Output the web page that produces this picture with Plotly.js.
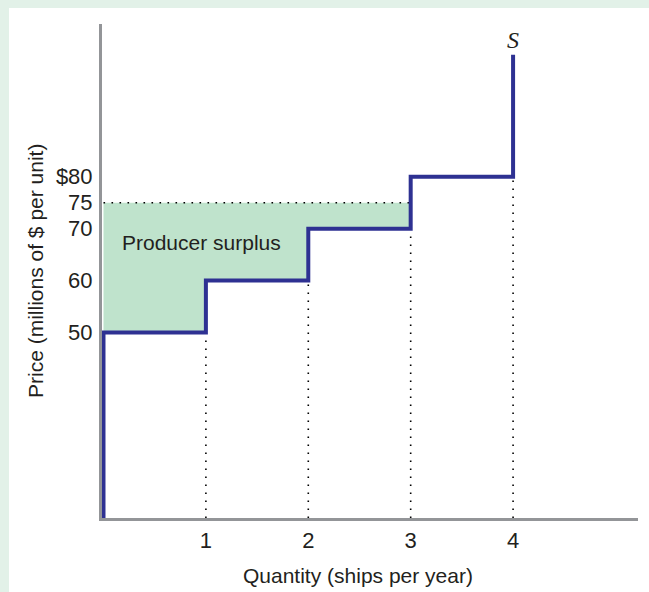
<!DOCTYPE html>
<html>
<head>
<meta charset="utf-8">
<script src="https://cdn.plot.ly/plotly-3.0.1.min.js"></script>
<style>
  html, body { margin: 0; padding: 0; background: #e2f1e8; width: 649px; height: 592px; overflow: hidden; }
  #chart { position: absolute; left: 9px; top: 8px; width: 640px; height: 584px; background: #ffffff; }
</style>
</head>
<body>
<div id="chart"></div>
<script>
// ---- data ----
const quantities = [1, 2, 3, 4];          // ships per year
const stepPrices = [50, 60, 70, 80];      // supply price of each ship (millions $)
const marketPrice = 75;                   // price
const supplyTopPrice = 103.5;             // top of the final vertical of S
const yTickVals = [80, 75, 70, 60, 50];
const yTickText = ['$80', '75', '70', '60', '50'];
const xTickVals = [1, 2, 3, 4];
const xTickText = ['1', '2', '3', '4'];

const yMin = 14.3, yMax = 109.4;
const xMin = -0.0146, xMax = 5.22;

const BLUE = '#2e3192';
const GREEN = '#bfe3cc';
const AXIS = '#939598';
const TEXT = '#231f20';
const FONT = 'Liberation Sans, Arial, sans-serif';

// supply step curve
const sx = [0], sy = [yMin];
let q0 = 0;
for (let i = 0; i < quantities.length; i++) {
  sx.push(q0, quantities[i]);
  sy.push(stepPrices[i], stepPrices[i]);
  q0 = quantities[i];
}
sx.push(q0); sy.push(supplyTopPrice);

// producer surplus polygon (units whose price is below the market price)
const px = [0], py = [marketPrice];
let p0 = 0;
for (let i = 0; i < quantities.length; i++) {
  if (stepPrices[i] >= marketPrice) break;
  px.push(p0, quantities[i]);
  py.push(stepPrices[i], stepPrices[i]);
  p0 = quantities[i];
}
px.push(p0); py.push(marketPrice);

// dotted guide lines
const dotted = { color: '#000000', width: 1.6, dash: '1.6px,6.4px' };
const traces = [];
traces.push({
  x: px, y: py, type: 'scatter', mode: 'lines', fill: 'toself',
  fillcolor: GREEN, line: { width: 0 }, hoverinfo: 'skip', showlegend: false
});
traces.push({
  x: [0, p0], y: [marketPrice, marketPrice], type: 'scatter', mode: 'lines',
  line: dotted, hoverinfo: 'skip', showlegend: false
});
for (let i = 0; i < quantities.length; i++) {
  traces.push({
    x: [quantities[i], quantities[i]], y: [yMin, stepPrices[i]], type: 'scatter', mode: 'lines',
    line: dotted, hoverinfo: 'skip', showlegend: false
  });
}
traces.push({
  x: sx, y: sy, type: 'scatter', mode: 'lines',
  line: { color: BLUE, width: 4 }, showlegend: false, name: 'S'
});

const layout = {
  width: 640, height: 584,
  margin: { l: 93, r: 11, t: 16, b: 74 },
  paper_bgcolor: '#ffffff', plot_bgcolor: '#ffffff',
  font: { family: FONT, color: TEXT, size: 21 },
  showlegend: false,
  xaxis: {
    range: [xMin, xMax], showgrid: false, zeroline: false,
    showline: true, linecolor: AXIS, linewidth: 3, layer: 'below traces',
    tickvals: xTickVals, ticktext: xTickText, ticks: '', ticklabelstandoff: 1,
    tickfont: { family: FONT, size: 22, color: TEXT }, fixedrange: true
  },
  yaxis: {
    range: [yMin, yMax], showgrid: false, zeroline: false,
    showline: true, linecolor: AXIS, linewidth: 3, layer: 'below traces',
    tickvals: yTickVals, ticktext: yTickText, ticks: '', ticklabelstandoff: 2,
    tickfont: { family: FONT, size: 22, color: TEXT }, fixedrange: true
  },
  annotations: [
    { text: '<i>S</i>', xref: 'x', yref: 'y', x: quantities[quantities.length - 1], y: supplyTopPrice,
      yanchor: 'bottom', yshift: 0, showarrow: false,
      font: { family: 'Liberation Serif, Times New Roman, serif', size: 24, color: TEXT } },
    { text: 'Producer surplus', xref: 'x', yref: 'y', x: 0.96, y: 67.3, showarrow: false,
      xanchor: 'center', yanchor: 'middle', font: { family: FONT, size: 21, color: TEXT } },
    { text: 'Price (millions of $ per unit)', xref: 'paper', yref: 'paper', x: 0, y: 0.5,
      xshift: -67, textangle: -90, showarrow: false, xanchor: 'center', yanchor: 'middle',
      font: { family: FONT, size: 21, color: TEXT } },
    { text: 'Quantity (ships per year)', xref: 'paper', yref: 'paper', x: 0.478, y: 0,
      yshift: -57, showarrow: false, xanchor: 'center', yanchor: 'middle',
      font: { family: FONT, size: 21, color: TEXT } }
  ]
};

Plotly.newPlot('chart', traces, layout, { displayModeBar: false, staticPlot: true });
</script>
</body>
</html>
